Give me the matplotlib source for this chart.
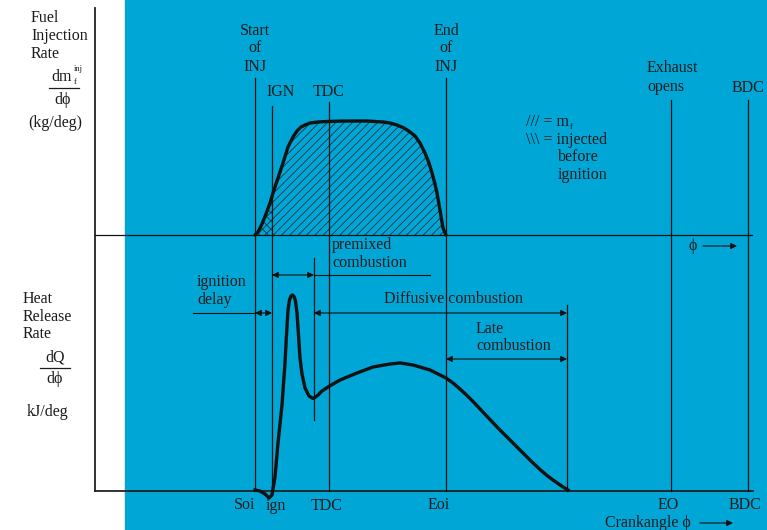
import numpy as np
import matplotlib
matplotlib.use("Agg")
import matplotlib.pyplot as plt

plt.rcParams['font.family'] = ['Liberation Serif', 'DejaVu Serif']
plt.rcParams['hatch.linewidth'] = 0.6

# event positions along crank angle (figure px units)
soi, ign, tdc, eoi, eo, bdc = 255, 272, 329, 446, 671, 748
premix_end = 314
late_end = 567
y_base_inj = 235     # zero line of injection rate
y_base_hrr = 491     # zero line of heat release

# fuel injection rate curve
fuel_x = [255, 258, 262, 266, 270, 273, 278, 283, 288, 293, 297, 301, 305, 310,
          318, 327, 345, 367, 383, 390, 397, 404, 410, 415, 420, 425, 429, 432,
          435, 437, 440, 443, 446]
fuel_y = [235, 232, 224, 214, 203, 193, 178, 163, 147, 137, 131, 127, 125, 123,
          122, 121.5, 121, 121, 122, 123, 125, 128, 132, 136, 143, 153, 163, 173,
          184, 193, 210, 228, 235]

# heat release rate curve
hrr_x = [255, 260, 265, 269, 272, 275, 278, 282, 285, 286.5, 288, 289.5, 291,
         292.5, 294, 295.5, 297, 298.5, 300, 302, 305, 309, 313, 317, 322, 328,
         340, 357, 373, 390, 400, 413, 430, 446, 453, 460, 467, 474, 481, 490,
         498, 507, 515, 523, 531, 540, 547, 553, 558, 563, 568]
hrr_y = [490, 491, 494, 498, 495, 477, 443, 405, 363, 335, 310, 300, 296, 295,
         296.5, 301, 313, 335, 358, 374, 388, 396, 398.5, 396, 391, 387, 380,
         373, 367, 364, 363, 365, 370, 378, 383, 389, 395.5, 402.5, 410, 419.5,
         428, 437, 445, 453, 461, 469.5, 475.5, 480, 483.5, 487, 490]

blue = '#00a6d6'
ink = '#1c1c1c'
fs = 11.5
phi = '\u03d5'

fig = plt.figure(figsize=(7.67, 5.30), dpi=100)
ax = fig.add_axes([0, 0, 1, 1])
ax.set_xlim(0, 767)
ax.set_ylim(530, 0)
ax.axis('off')
ax.axvspan(125, 767, color=blue, zorder=0)

# axes frame
ax.plot([95, 95], [8, y_base_hrr], color='#222', lw=1.3)
ax.plot([95, 753], [y_base_hrr, y_base_hrr], color='#222', lw=1.3)
ax.plot([95, 752], [y_base_inj, y_base_inj], color='#111', lw=0.9)

# event lines
vlines = [(soi, 78), (ign, 106), (tdc, 102), (eoi, 78), (eo, 100), (bdc, 100)]
for x, top in vlines:
    ax.plot([x, x], [top, y_base_hrr], color='#111', lw=0.9)
ax.plot([premix_end, premix_end], [258, 420], color='#111', lw=0.9)
ax.plot([late_end, late_end], [305, y_base_hrr], color='#111', lw=0.9)

# injection curve with hatch
fx = np.array(fuel_x)
fy = np.array(fuel_y)
ax.fill_between(fx, fy, y_base_inj, facecolor='none', edgecolor='#1a3340',
                hatch='////', lw=0)
mask = fx <= ign + 1
ax.fill_between(fx[mask], fy[mask], y_base_inj, facecolor='none',
                edgecolor='#1a3340', hatch='\\\\\\\\', lw=0)
ax.plot(fuel_x, fuel_y, color='#111', lw=2.4, solid_capstyle='round',
        solid_joinstyle='round')

# heat release curve
ax.plot(hrr_x, hrr_y, color='#111', lw=2.4, solid_joinstyle='round')

# arrows
def arrow(x0, x1, y, style='<|-|>'):
    ax.annotate('', xy=(x1, y), xytext=(x0, y),
                arrowprops=dict(arrowstyle=style, color='#111', lw=0.8,
                                mutation_scale=9, shrinkA=0, shrinkB=0))

ax.plot([193, soi], [313, 313], color='#111', lw=0.8)
arrow(soi, ign, 313)
arrow(ign, premix_end, 275)
ax.plot([premix_end, 430], [275, 275], color='#111', lw=0.8)
arrow(premix_end, late_end, 313)
arrow(eoi, late_end, 359)
arrow(703, 737, 246, '-|>')
arrow(700, 733, 523, '-|>')

def t(s, x, y, ha='left', size=fs):
    ax.text(x, y, s, ha=ha, va='center', fontsize=size, color=ink)

# left labels
t('Fuel', 31, 18)
t('Injection', 31, 36)
t('Rate', 31, 54)
t('dm', 51, 77)
t('f', 73.5, 82, size=6)
t('inj', 73.5, 69, size=6)
ax.plot([49, 79], [88, 88], color=ink, lw=0.9)
t('d' + phi, 63, 100, ha='center')
t('(kg/deg)', 28, 123)

t('Heat', 23, 299)
t('Release', 23, 317)
t('Rate', 23, 334)
t('dQ', 55, 357, ha='center')
ax.plot([40, 70], [368, 368], color=ink, lw=0.9)
t('d' + phi, 55, 379, ha='center')
t('kJ/deg', 27, 412)

# top labels
t('Start', soi, 31, ha='center')
t('of', soi, 48, ha='center')
t('INJ', soi, 67, ha='center')
t('IGN', 281, 92, ha='center')
t('TDC', tdc, 92, ha='center')
t('End', eoi, 31, ha='center')
t('of', eoi, 48, ha='center')
t('INJ', eoi, 67, ha='center')
t('Exhaust', 647, 68)
t('opens', 647, 87)
t('BDC', bdc, 88, ha='center')

t('/// = m', 526, 122)
t('f', 570, 127, size=6)
t('\\\\\\ = injected', 526, 140)
t('before', 558, 157)
t('ignition', 558, 175)
t(phi, 693, 246, ha='center')

# phase labels
t('ignition', 197, 282)
t('delay', 197, 300)
t('premixed', 332, 245)
t('combustion', 332, 263)
t('Diffusive combustion', 384, 299)
t('Late', 476, 329)
t('combustion', 476, 346)

# bottom labels
t('Soi', 245, 505, ha='center')
t('ign', 276, 506, ha='center')
t('TDC', 327, 506, ha='center')
t('Eoi', 439, 505, ha='center')
t('EO', 668, 505, ha='center')
t('BDC', 745, 505, ha='center')
t('Crankangle ' + phi, 605, 523)

fig.savefig('out.png', dpi=100)
